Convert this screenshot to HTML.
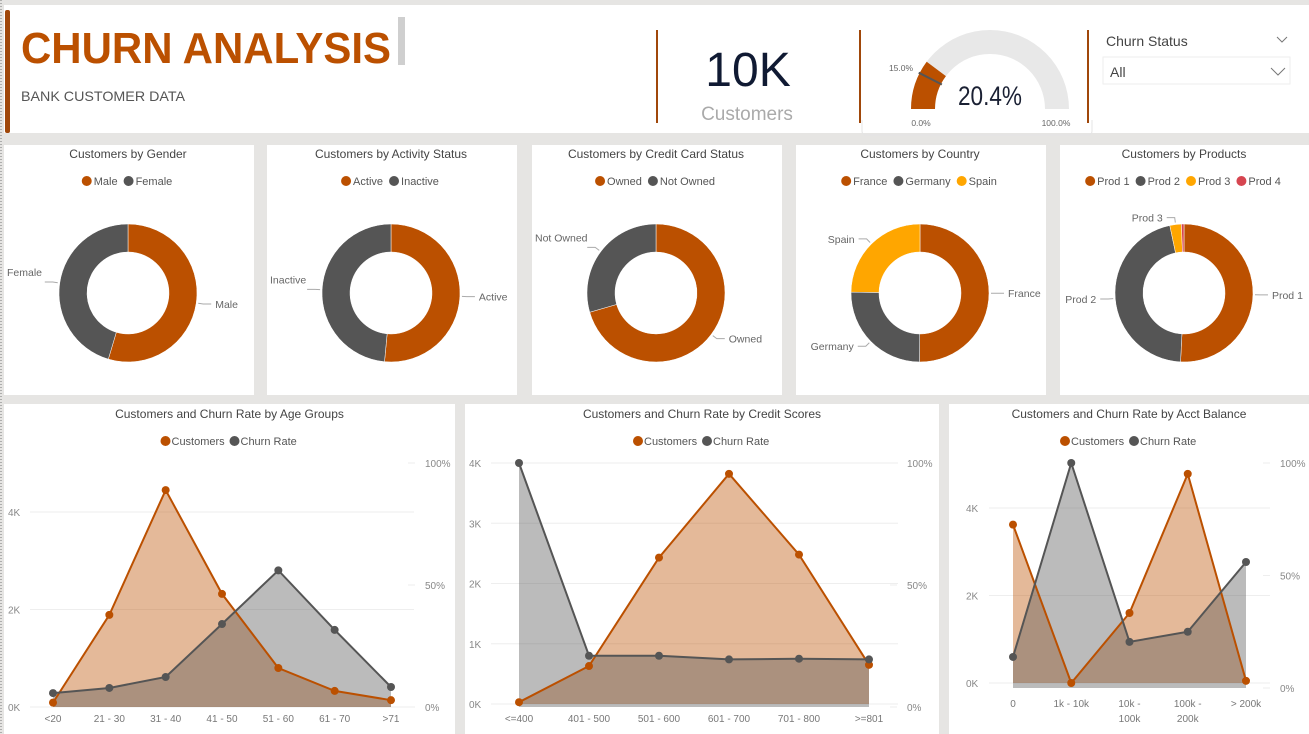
<!DOCTYPE html>
<html><head><meta charset="utf-8"><style>
html,body{margin:0;padding:0;background:#e6e5e3;}
svg{display:block;font-family:"Liberation Sans",sans-serif;}
</style></head><body>
<svg id="page" width="1309" height="734" viewBox="0 0 1309 734" xmlns="http://www.w3.org/2000/svg">
<rect x="0" y="0" width="1309" height="734" fill="#e6e5e3"/>
<line x1="1" y1="0" x2="1" y2="734" stroke="#777" stroke-dasharray="1,2"/>
<g>
<rect x="4" y="5" width="1305" height="128" fill="#fff"/>
<rect x="5" y="10" width="5" height="123" rx="2" fill="#a0470a"/>
<text x="21" y="63" font-size="44" font-weight="bold" fill="#bb5000" textLength="370" lengthAdjust="spacingAndGlyphs">CHURN ANALYSIS</text>
<rect x="398" y="17" width="7" height="48" fill="#cfcfcf"/>
<text x="21" y="101" font-size="14" fill="#555" textLength="164" lengthAdjust="spacingAndGlyphs">BANK CUSTOMER DATA</text>
<line x1="657" y1="30" x2="657" y2="123" stroke="#a0470a" stroke-width="2"/>
<line x1="860" y1="30" x2="860" y2="123" stroke="#a0470a" stroke-width="2"/>
<line x1="1088" y1="30" x2="1088" y2="123" stroke="#a0470a" stroke-width="2"/>
<g>
<text x="748" y="86" font-size="48" fill="#101a33" text-anchor="middle">10K</text>
<text x="747" y="120" font-size="19" fill="#aaa" text-anchor="middle">Customers</text>
</g>
<path d="M862,120 L862,131 Q862,135 866,135 L1088,135 Q1092,135 1092,131 L1092,120" fill="none" stroke="#e4e4e4"/>
<g id="gauge"></g>
<g>
<text x="1106" y="46" font-size="14" fill="#444">Churn Status</text>
<polyline points="1277,37 1282,42 1287,37" fill="none" stroke="#777"/>
<rect x="1103" y="57" width="187" height="27" fill="#fff" stroke="#eee"/>
<text x="1110" y="77" font-size="14" fill="#444">All</text>
<polyline points="1271,68 1278,75 1285,68" fill="none" stroke="#777"/>
</g>
</g>
<g id="donuts"></g>
<g id="combos"></g>
</svg>
<script>
const NS="http://www.w3.org/2000/svg";
function mk(parent,tag,attrs,text){const e=document.createElementNS(NS,tag);for(const k in attrs)e.setAttribute(k,attrs[k]);if(text!==undefined)e.textContent=text;parent.appendChild(e);return e;}
const ORANGE="#bb5000",GREY="#555555",YELLOW="#ffa600",RED="#d64550";

const gaugeValue=0.204;
const gaugeTarget=0.15;
(function(){
  const g=document.getElementById('gauge');
  const cx=990,cy=109,R=79,r=55;
  function arcPath(a0,a1){
    const t0=Math.PI*(1-a0),t1=Math.PI*(1-a1);
    const p=(rad,t)=>[cx+rad*Math.cos(t),cy-rad*Math.sin(t)];
    const A=p(R,t0),B=p(R,t1),C=p(r,t1),D=p(r,t0);
    return `M${A} A${R},${R} 0 0 1 ${B} L${C} A${r},${r} 0 0 0 ${D} Z`;
  }
  const bg=mk(g,'path',{d:arcPath(0,1),fill:'#e8e8e8'});
  
  const v=mk(g,'path',{d:arcPath(0,gaugeValue),fill:ORANGE});
  
  const tt=Math.PI*(1-gaugeTarget);
  const tl=mk(g,'line',{x1:cx+(r-1)*Math.cos(tt),y1:cy-(r-1)*Math.sin(tt),x2:cx+(R+1)*Math.cos(tt),y2:cy-(R+1)*Math.sin(tt),stroke:'#555','stroke-width':2});
  
  const t1=mk(g,'text',{x:990,y:105,'font-size':27,fill:'#1a2033','text-anchor':'middle',textLength:64,lengthAdjust:'spacingAndGlyphs'},(gaugeValue*100).toFixed(1)+'%');
  
  mk(g,'text',{x:901,y:71,'font-size':8.5,fill:'#666','text-anchor':'middle'},(gaugeTarget*100).toFixed(1)+'%');
  mk(g,'text',{x:921,y:126,'font-size':8.5,fill:'#666','text-anchor':'middle'},'0.0%');
  mk(g,'text',{x:1056,y:126,'font-size':8.5,fill:'#666','text-anchor':'middle'},'100.0%');
})();

const genderLabels=["Male","Female"], genderValues=[54.6,45.4];
const activityLabels=["Active","Inactive"], activityValues=[51.5,48.5];
const cardLabels=["Owned","Not Owned"], cardValues=[70.5,29.5];
const countryLabels=["France","Germany","Spain"], countryValues=[50.1,25.1,24.8];
const productLabels=["Prod 1","Prod 2","Prod 3","Prod 4"], productValues=[50.8,45.9,2.7,0.6];

const donutDefs=[
 {title:"Customers by Gender",name:"gender-donut",labels:genderLabels,values:genderValues,colors:[ORANGE,GREY],x0:4},
 {title:"Customers by Activity Status",name:"activity-donut",labels:activityLabels,values:activityValues,colors:[ORANGE,GREY],x0:267},
 {title:"Customers by Credit Card Status",name:"credit-card-donut",labels:cardLabels,values:cardValues,colors:[ORANGE,GREY],x0:532},
 {title:"Customers by Country",name:"country-donut",labels:countryLabels,values:countryValues,colors:[ORANGE,GREY,YELLOW],x0:796},
 {title:"Customers by Products",name:"products-donut",labels:productLabels,values:productValues,colors:[ORANGE,GREY,YELLOW,RED],x0:1060}
];
(function(){
  const root=document.getElementById('donuts');
  donutDefs.forEach(d=>{
    const g=mk(root,'g',{});
    
    
    const cw=d.x0===1060?249:250;
    mk(g,'rect',{x:d.x0,y:145,width:cw,height:250,fill:'#fff'});
    const cx=d.x0+124,cy=293,R=69,r=41;
    const tt=mk(g,'text',{x:cx,y:158,'font-size':12,fill:'#444','text-anchor':'middle'},d.title);
    
    const lg=mk(g,'g',{});
    
    const entries=[];
    d.labels.forEach((l,i)=>{
      const le=mk(lg,'g',{});
      
      const c=mk(le,'circle',{cx:0,cy:181,r:5,fill:d.colors[i]});
      const t=mk(le,'text',{x:0,y:185,'font-size':11,fill:'#555'},l);
      entries.push([c,t,t.getComputedTextLength()+18]);
    });
    const tot=entries.reduce((a,e)=>a+e[2],0)-4;
    let lx=cx-tot/2;
    entries.forEach(e=>{e[0].setAttribute('cx',lx+5);e[1].setAttribute('x',lx+12);lx+=e[2];});
    const sum=d.values.reduce((a,b)=>a+b,0);
    let acc=0;
    d.values.forEach((v,i)=>{
      const a0=acc/sum*2*Math.PI, a1=(acc+v)/sum*2*Math.PI; acc+=v;
      const P=(rad,a)=>[cx+rad*Math.sin(a),cy-rad*Math.cos(a)];
      const large=(a1-a0)>Math.PI?1:0;
      const A=P(R,a0),B=P(R,a1),C=P(r,a1),D=P(r,a0);
      const s=mk(g,'path',{d:`M${A} A${R},${R} 0 ${large} 1 ${B} L${C} A${r},${r} 0 ${large} 0 ${D} Z`,fill:d.colors[i],stroke:'#fff','stroke-width':0.5});
      
      
      if(v/sum<0.02) return;
      const am=(a0+a1)/2;
      const p1=P(R+2,am),p2=P(R+7,am);
      const right=p2[0]>=cx;
      const p3=[p2[0]+(right?8:-8),p2[1]];
      mk(g,'polyline',{points:`${p1} ${p2} ${p3}`,fill:'none',stroke:'#aaa','stroke-width':1});
      const lt=mk(g,'text',{x:p3[0]+(right?4:-4),y:p3[1]+4,'font-size':10.5,fill:'#666','text-anchor':right?'start':'end'},d.labels[i]);
      
      const w=lt.getComputedTextLength();
      if(right && p3[0]+4+w>d.x0+cw-3){lt.setAttribute('x',d.x0+cw-3);lt.setAttribute('text-anchor','end');lt.setAttribute('y',p3[1]+16);}
      if(!right && p3[0]-4-w<d.x0+3){lt.setAttribute('x',d.x0+3);lt.setAttribute('text-anchor','start');lt.setAttribute('y',p3[1]-6);}
    });
  });
})();

const ageCategories=["<20","21 - 30","31 - 40","41 - 50","51 - 60","61 - 70",">71"];
const ageCustomers=[90,1890,4450,2320,800,330,140];
const ageChurn=[5.7,7.8,12.3,34,56,31.6,8.2];
const ageYTicks=[0,2000,4000];
const ageYTickLabels=["0K","2K","4K"];

const creditCategories=["<=400","401 - 500","501 - 600","601 - 700","701 - 800",">=801"];
const creditCustomers=[30,630,2430,3820,2480,650];
const creditChurn=[100,21,21,19.5,19.8,19.5];
const creditYTicks=[0,1000,2000,3000,4000];
const creditYTickLabels=["0K","1K","2K","3K","4K"];

const balanceCategories=[["0"],["1k - 10k"],["10k -","100k"],["100k -","200k"],["> 200k"]];
const balanceCustomers=[3620,0,1600,4780,50];
const balanceChurn=[13.8,100,20.5,25,56];
const balanceYTicks=[0,2000,4000];
const balanceYTickLabels=["0K","2K","4K"];

const pctTicks=[0,50,100];
const pctTickLabels=["0%","50%","100%"];

const combos=[
 {title:"Customers and Churn Rate by Age Groups",name:"age-groups-chart",cats:ageCategories,cust:ageCustomers,churn:ageChurn,yt:ageYTicks,ytl:ageYTickLabels,
  box:[4,404,451,330],xFirst:53,xLast:391,y0:707,ymaxPx:512,ymaxVal:4000,p0:707,p100:463,gx0:30,gx1:414,lx:8,rx:425,catY:722},
 {title:"Customers and Churn Rate by Credit Scores",name:"credit-scores-chart",cats:creditCategories,cust:creditCustomers,churn:creditChurn,yt:creditYTicks,ytl:creditYTickLabels,
  box:[465,404,474,330],xFirst:519,xLast:869,y0:704,ymaxPx:463,ymaxVal:4000,p0:707,p100:463,gx0:491,gx1:898,lx:469,rx:907,catY:722},
 {title:"Customers and Churn Rate by Acct Balance",name:"acct-balance-chart",cats:balanceCategories,cust:balanceCustomers,churn:balanceChurn,yt:balanceYTicks,ytl:balanceYTickLabels,
  box:[949,404,360,330],xFirst:1013,xLast:1246,y0:683,ymaxPx:508,ymaxVal:4000,p0:688,p100:463,gx0:989,gx1:1270,lx:966,rx:1280,catY:707}
];
(function(){
  const root=document.getElementById('combos');
  combos.forEach(c=>{
    const g=mk(root,'g',{});
    
    
    const [bx,by,bw,bh]=c.box;
    mk(g,'rect',{x:bx,y:by,width:bw,height:bh,fill:'#fff'});
    const cxm=bx+bw/2;
    const tt=mk(g,'text',{x:cxm,y:418,'font-size':12,fill:'#444','text-anchor':'middle'},c.title);
    
    const lg=mk(g,'g',{});
    
    const e1=mk(lg,'g',{});
    
    mk(e1,'circle',{cx:cxm-64,cy:441,r:5,fill:ORANGE});
    mk(e1,'text',{x:cxm-58,y:445,'font-size':11,fill:'#555'},'Customers');
    const e2=mk(lg,'g',{});
    
    mk(e2,'circle',{cx:cxm+5,cy:441,r:5,fill:GREY});
    mk(e2,'text',{x:cxm+11,y:445,'font-size':11,fill:'#555'},'Churn Rate');
    const n=c.cats.length;
    const xs=i=>c.xFirst+(c.xLast-c.xFirst)*i/(n-1);
    const yL=v=>c.y0-(c.y0-c.ymaxPx)*v/c.ymaxVal;
    const yR=p=>c.p0-(c.p0-c.p100)*p/100;
    c.yt.forEach((t,i)=>{
      mk(g,'line',{x1:c.gx0,x2:c.gx1,y1:yL(t),y2:yL(t),stroke:'#eeeeee','stroke-width':1});
      const tl=mk(g,'text',{x:c.lx,y:yL(t)+4,'font-size':10,fill:'#888'},c.ytl[i]);
      
    });
    pctTicks.forEach((p,i)=>{
      mk(g,'line',{x1:c.rx-17,x2:c.rx-10,y1:yR(p),y2:yR(p),stroke:'#eee','stroke-width':1});
      const tl=mk(g,'text',{x:c.rx,y:yR(p)+4,'font-size':10,fill:'#888'},pctTickLabels[i]);
      
    });
    c.cats.forEach((cat,i)=>{
      const lines=Array.isArray(cat)?cat:[cat];
      lines.forEach((ln,k)=>{
        const tl=mk(g,'text',{x:xs(i),y:c.catY+k*15,'font-size':10,fill:'#777','text-anchor':'middle'},ln);
        
      });
    });
    const cp=c.cust.map((v,i)=>[xs(i),yL(v)]);
    const hp=c.churn.map((v,i)=>[xs(i),yR(v)]);
    const a1=mk(g,'path',{d:`M${xs(0)},${c.y0} L${cp.join(' L')} L${xs(n-1)},${c.y0} Z`,fill:'rgba(187,80,0,0.4)'});
    
    const a2=mk(g,'path',{d:`M${xs(0)},${c.p0} L${hp.join(' L')} L${xs(n-1)},${c.p0} Z`,fill:'rgba(85,85,85,0.4)'});
    
    const l1=mk(g,'polyline',{points:cp.join(' '),fill:'none',stroke:ORANGE,'stroke-width':2});
    
    const l2=mk(g,'polyline',{points:hp.join(' '),fill:'none',stroke:GREY,'stroke-width':2});
    
    cp.forEach(p=>{const d=mk(g,'circle',{cx:p[0],cy:p[1],r:4,fill:ORANGE});
      });
    hp.forEach(p=>{const d=mk(g,'circle',{cx:p[0],cy:p[1],r:4,fill:GREY});
      });
  });
})();
</script>
</body></html>
